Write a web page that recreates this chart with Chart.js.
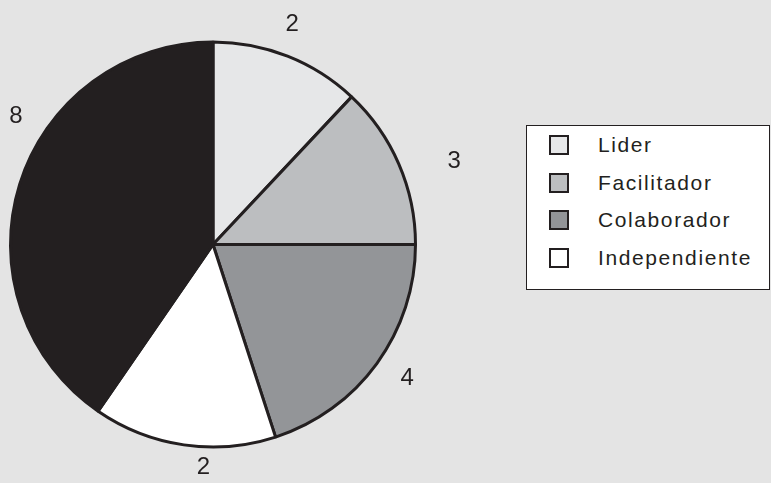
<!doctype html>
<html><head><meta charset="utf-8">
<script src="https://cdn.jsdelivr.net/npm/chart.js@4"></script>
<style>
  html, body { margin: 0; padding: 0; background: #e4e4e4; }
  .wrap { position: relative; width: 771px; height: 483px; }
  canvas { position: absolute; left: 0; top: 0; }
  .legend { position: absolute; left: 526px; top: 125px; width: 244px; height: 165px;
    box-sizing: border-box; background: #fff; border: 1px solid #231f20; }
  .legend ul { list-style: none; margin: 0; padding: 0; }
  .legend li { position: absolute; left: 22px; height: 24px; display: flex; align-items: center;
    font: 21px "Liberation Sans", Arial, sans-serif; letter-spacing: 1.6px; color: #231f20; }
  .legend .sw { width: 16px; height: 16px; border: 2px solid #231f20; margin-right: 29px; }
</style>
</head><body>
<div class="wrap">
  <canvas id="pie" width="771" height="483"></canvas>
  <div class="legend"><ul id="leg"></ul></div>
</div>
<script>
  const categories = ['Lider', 'Facilitador', 'Colaborador', 'Independiente', 'Otro'];
  const shares = [12, 13, 20, 14.6, 40.4];
  const countLabels = ['2', '3', '4', '2', '8'];
  const colors = ['#e6e7e8', '#bcbec0', '#939598', '#ffffff', '#231f20'];
  const legendItems = ['Lider', 'Facilitador', 'Colaborador', 'Independiente'];

  const ink = '#231f20';

  // legend rows
  const leg = document.getElementById('leg');
  const rowTops = [7, 45, 82, 120];
  legendItems.forEach((name, i) => {
    const li = document.createElement('li');
    li.style.top = rowTops[i] + 'px';
    li.innerHTML = `<span class="sw" style="background:${colors[i]}"></span>${name}`;
    leg.appendChild(li);
  });

  // tweak per label: angle nudge (deg) and distance from centre
  const nudge = [-1.8, 4.4, -1.4, -5.8, 15.7];
  const dist = [234, 255, 236, 223, 235];

  const countLabelPlugin = {
    id: 'countLabels',
    afterDatasetsDraw(chart) {
      const ctx = chart.ctx;
      const meta = chart.getDatasetMeta(0);
      ctx.save();
      ctx.font = '24px "Liberation Sans", Arial, sans-serif';
      ctx.fillStyle = ink;
      ctx.textAlign = 'center';
      ctx.textBaseline = 'middle';
      meta.data.forEach((arc, i) => {
        const { x, y, startAngle, endAngle } = arc.getProps(['x', 'y', 'startAngle', 'endAngle'], true);
        const a = (startAngle + endAngle) / 2 + nudge[i] * Math.PI / 180;
        ctx.fillText(countLabels[i], x + Math.cos(a) * dist[i], y + Math.sin(a) * dist[i]);
      });
      ctx.restore();
    }
  };

  new Chart(document.getElementById('pie'), {
    type: 'pie',
    data: {
      labels: categories,
      datasets: [{
        data: shares,
        backgroundColor: colors,
        borderColor: ink,
        borderWidth: 3
      }]
    },
    options: {
      responsive: false,
      animation: false,
      layout: { padding: { left: 9, right: 354, top: 40, bottom: 34 } },
      plugins: { legend: { display: false }, tooltip: { enabled: false } }
    },
    plugins: [countLabelPlugin]
  });
</script>
</body></html>
